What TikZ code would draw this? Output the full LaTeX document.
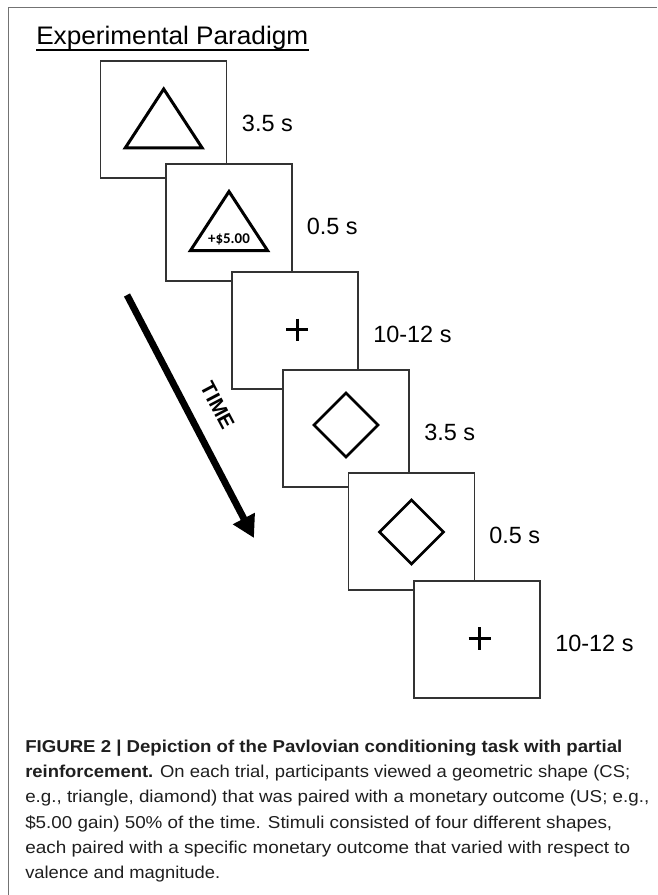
\documentclass[tikz,border=0pt]{standalone}
\usepackage{fontspec}
\usepackage{graphicx}
\setmainfont{Liberation Sans}
\newfontfamily\carlito{Carlito}
\usetikzlibrary{arrows.meta,calc}
\newcommand{\fitw}[2]{\resizebox{#1}{\height}{#2}}
\begin{document}
\begin{tikzpicture}[x=0.75pt,y=-0.75pt,
  stim/.style={draw=black!80, line width=0.9pt, fill=white, minimum width=94.5pt, minimum height=87.75pt, anchor=north west, inner sep=0pt, outer sep=0pt},
  shapeline/.style={line width=2.25pt, line join=miter},
  diamline/.style={line width=1.95pt, line join=miter},
  dur/.style={anchor=west, inner sep=0pt, font=\fontsize{17.6pt}{20pt}\selectfont},
  captext/.style={anchor=base west, inner sep=0pt, font=\fontsize{12.9pt}{19pt}\selectfont, text=black!88},
  frameline/.style={draw=black!55, line width=1pt}]
\useasboundingbox (0,0) rectangle (657,895);
\fill[white] (0,0) rectangle (657,895);
% frame
\coordinate (fa) at (8.3,895);
\coordinate (fb) at (8.3,7.5);
\coordinate (fc) at (657,7.5);
\draw[frameline] (fa) -- (fb) -- (fc);
% title
\node[anchor=base west, inner sep=0pt, font=\fontsize{19pt}{23pt}\selectfont] (title) at (36,45) {\fitw{204pt}{Experimental Paradigm}};
\draw[line width=1.35pt] ([yshift=-3.75pt]title.base west) -- ([yshift=-3.75pt]title.base east);
% box 1
\node[stim] (b1) at (100.7,61) {};
\draw[shapeline] ($(b1.center)+(0,-30.5)$) -- ($(b1.center)+(38.5,28.5)$) -- ($(b1.center)+(-38.5,28.5)$) -- cycle;
\node[dur] (d1) at ($(b1.east)+(15,4)$) {3.5 s};
% box 2
\node[stim] (b2) at (166,164) {};
\draw[shapeline] ($(b2.center)+(0,-31)$) -- ($(b2.center)+(38.5,28)$) -- ($(b2.center)+(-38.5,28)$) -- cycle;
\node[inner sep=0pt, font=\carlito\bfseries\fontsize{11.2pt}{13pt}\selectfont] (m2) at ($(b2.center)+(0,17)$) {+\$5.00};
\node[dur] (d2) at ($(b2.east)+(14.5,4)$) {0.5 s};
% box 3
\node[stim] (b3) at (232,272) {};
\draw[shapeline] ($(b3.center)+(-9,-1)$) -- ($(b3.center)+(13,-1)$);
\draw[shapeline] ($(b3.center)+(2,-12)$) -- ($(b3.center)+(2,10)$);
\node[dur] (d3) at ($(b3.east)+(15,4)$) {10-12 s};
% box 4
\node[stim] (b4) at (283,370) {};
\draw[diamline] ($(b4.center)+(0,-35.5)$) -- ($(b4.center)+(32,-3.5)$) -- ($(b4.center)+(0,28.5)$) -- ($(b4.center)+(-32,-3.5)$) -- cycle;
\node[dur] (d4) at ($(b4.east)+(15,4)$) {3.5 s};
% box 5
\node[stim] (b5) at (348.5,473) {};
\draw[diamline] ($(b5.center)+(0,-31.5)$) -- ($(b5.center)+(32,0.5)$) -- ($(b5.center)+(0,32.5)$) -- ($(b5.center)+(-32,0.5)$) -- cycle;
\node[dur] (d5) at ($(b5.east)+(14.5,4)$) {0.5 s};
% box 6
\node[stim] (b6) at (414,581) {};
\draw[shapeline] ($(b6.center)+(-8.5,-1.5)$) -- ($(b6.center)+(13.5,-1.5)$);
\draw[shapeline] ($(b6.center)+(2.5,-12.5)$) -- ($(b6.center)+(2.5,10)$);
\node[dur] (d6) at ($(b6.east)+(15,4)$) {10-12 s};
% time arrow
\coordinate (ta) at (127,295);
\coordinate (tb) at (254,538);
\draw[line width=5.1pt, -{Triangle[length=16.5pt,width=17.5pt]}] (ta) -- (tb);
\node[rotate=-62.2, inner sep=0pt, font=\bfseries\fontsize{15.5pt}{18pt}\selectfont] (time) at (217.5,405.5) {TIME};
% caption
\node[captext] (c1) at (25,752.5) {\fitw{447.75pt}{\bfseries FIGURE 2 | Depiction of the Pavlovian conditioning task with partial}};
\node[captext] (c2) at (25,777.7) {\fitw{453.75pt}{\textbf{reinforcement.} On each trial, participants viewed a geometric shape (CS;}};
\node[captext] (c3) at (25,802.9) {\fitw{468pt}{e.g., triangle, diamond) that was paired with a monetary outcome (US; e.g.,}};
\node[captext] (c4) at (25,828.1) {\fitw{440.25pt}{\$5.00 gain) 50\% of the time. Stimuli consisted of four different shapes,}};
\node[captext] (c5) at (25,853.3) {\fitw{453.75pt}{each paired with a specific monetary outcome that varied with respect to}};
\node[captext] (c6) at (25,878.5) {\fitw{146.25pt}{valence and magnitude.}};
\end{tikzpicture}
\end{document}
